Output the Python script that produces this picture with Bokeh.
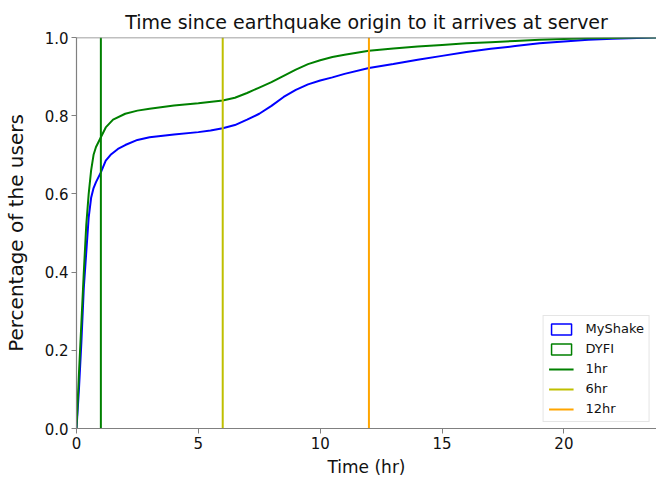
from bokeh.plotting import figure
from bokeh.models import Range1d, Legend, LegendItem, Span, CustomJSTickFormatter
from bokeh.embed import file_html
from bokeh.resources import INLINE

# ---- data ----
myshake_x = [0, 0.1, 0.2, 0.3, 0.4, 0.5, 0.6, 0.7, 0.8, 1.0, 1.2, 1.4, 1.7, 2.0, 2.5, 3, 4, 5,
             5.5, 6, 6.5, 7, 7.5, 8, 8.5, 9, 9.5, 10, 10.5, 11, 12, 13, 14, 15, 16, 17, 18,
             19, 20, 21, 22, 23, 23.8]
myshake_y = [0, 0.10, 0.22, 0.36, 0.45, 0.54, 0.59, 0.615, 0.63, 0.655, 0.685, 0.70, 0.715,
             0.725, 0.738, 0.745, 0.752, 0.758, 0.762, 0.768, 0.776, 0.79, 0.805, 0.825,
             0.848, 0.866, 0.88, 0.89, 0.898, 0.907, 0.922, 0.932, 0.943, 0.953, 0.963,
             0.971, 0.978, 0.985, 0.99, 0.994, 0.997, 0.999, 1.0]

dyfi_x = [0, 0.1, 0.2, 0.3, 0.4, 0.5, 0.6, 0.7, 0.8, 1.0, 1.2, 1.5, 2.0, 2.5, 3, 4, 5, 6,
          6.5, 7, 7.5, 8, 8.5, 9, 9.5, 10, 10.5, 11, 12, 13, 14, 15, 16, 17, 18, 19, 20,
          21, 22, 23, 23.8]
dyfi_y = [0, 0.14, 0.27, 0.40, 0.52, 0.60, 0.66, 0.70, 0.72, 0.745, 0.77, 0.79, 0.805,
          0.813, 0.818, 0.826, 0.832, 0.839, 0.846, 0.858, 0.872, 0.886, 0.902, 0.918,
          0.932, 0.942, 0.95, 0.956, 0.966, 0.972, 0.977, 0.981, 0.985, 0.988, 0.991,
          0.994, 0.996, 0.998, 0.999, 1.0, 1.0]

marker_hours = [1, 6, 12]
marker_labels = ["1hr", "6hr", "12hr"]
marker_colors = ["#008000", "#bfbf00", "#ffa500"]

x_ticks = [0, 5, 10, 15, 20]
y_ticks = [0.0, 0.2, 0.4, 0.6, 0.8, 1.0]

FONT = "DejaVu Sans"
SPINE = "#808080"
TEXT = "#111111"

p = figure(width=656, height=480, output_backend="svg", toolbar_location=None,
           x_range=Range1d(0, 23.8), y_range=Range1d(0, 1),
           min_border_left=74, min_border_right=0, min_border_top=37, min_border_bottom=52,
           title="Time since earthquake origin to it arrives at server")

p.title.text_font = FONT
p.title.text_font_size = "19px"
p.title.text_font_style = "normal"
p.title.align = "center"
p.title.text_color = TEXT
p.title.standoff = 10

p.xgrid.visible = False
p.ygrid.visible = False
p.outline_line_color = None
p.background_fill_color = "white"
p.border_fill_color = "white"

for ax in (p.xaxis[0], p.yaxis[0]):
    ax.axis_line_color = SPINE
    ax.axis_line_width = 1.2
    ax.major_tick_line_color = SPINE
    ax.major_tick_out = 5
    ax.major_tick_in = 0
    ax.minor_tick_line_color = None
    ax.major_label_text_font = FONT
    ax.major_label_text_font_size = "15px"
    ax.major_label_text_color = TEXT
    ax.axis_label_text_font = FONT
    ax.axis_label_text_font_style = "normal"
    ax.axis_label_text_color = TEXT

p.xaxis.ticker = x_ticks
p.yaxis.ticker = y_ticks
p.yaxis.formatter = CustomJSTickFormatter(code="return tick.toFixed(1);")
p.xaxis.axis_label = "Time (hr)"
p.yaxis.axis_label = "Percentage of the users"
p.xaxis.axis_label_text_font_size = "17px"
p.yaxis.axis_label_text_font_size = "20px"
p.xaxis.major_label_standoff = 3
p.yaxis.major_label_standoff = 3
p.xaxis.axis_label_standoff = 5
p.yaxis.axis_label_standoff = 14

# top spine
p.add_layout(Span(location=1.0, dimension="width", line_color=SPINE, line_width=1.5))

# curves
r_ms = p.line(myshake_x, myshake_y, line_color="#0000ff", line_width=2)
r_dy = p.line(dyfi_x, dyfi_y, line_color="#008000", line_width=2)

# legend patch proxies: zero-size quads at each curve's end point (invisible on the chart)
q_ms = p.quad(left=[myshake_x[-1]], right=[myshake_x[-1]], top=[myshake_y[-1]],
              bottom=[myshake_y[-1]], fill_color=None, line_color="#0000ff", line_width=1.5)
q_dy = p.quad(left=[dyfi_x[-1]], right=[dyfi_x[-1]], top=[dyfi_y[-1]],
              bottom=[dyfi_y[-1]], fill_color=None, line_color="#008000", line_width=1.5)

items = [LegendItem(label="MyShake", renderers=[q_ms]),
         LegendItem(label="DYFI", renderers=[q_dy])]

for h, lab, col in zip(marker_hours, marker_labels, marker_colors):
    r = p.segment(x0=[h], y0=[0], x1=[h], y1=[1], line_color=col, line_width=2)
    items.append(LegendItem(label=lab, renderers=[r]))

legend = Legend(items=items, location="bottom_right")
legend.margin = 6
legend.padding = 5
legend.spacing = 5
legend.glyph_width = 25
legend.glyph_height = 14
legend.label_height = 14
legend.label_standoff = 12
legend.label_text_font = FONT
legend.label_text_font_size = "13px"
legend.label_text_color = TEXT
legend.border_line_color = "#cccccc"
legend.border_line_width = 1
legend.background_fill_alpha = 0.8
p.add_layout(legend)

open("out.html", "w").write(file_html(p, INLINE))
